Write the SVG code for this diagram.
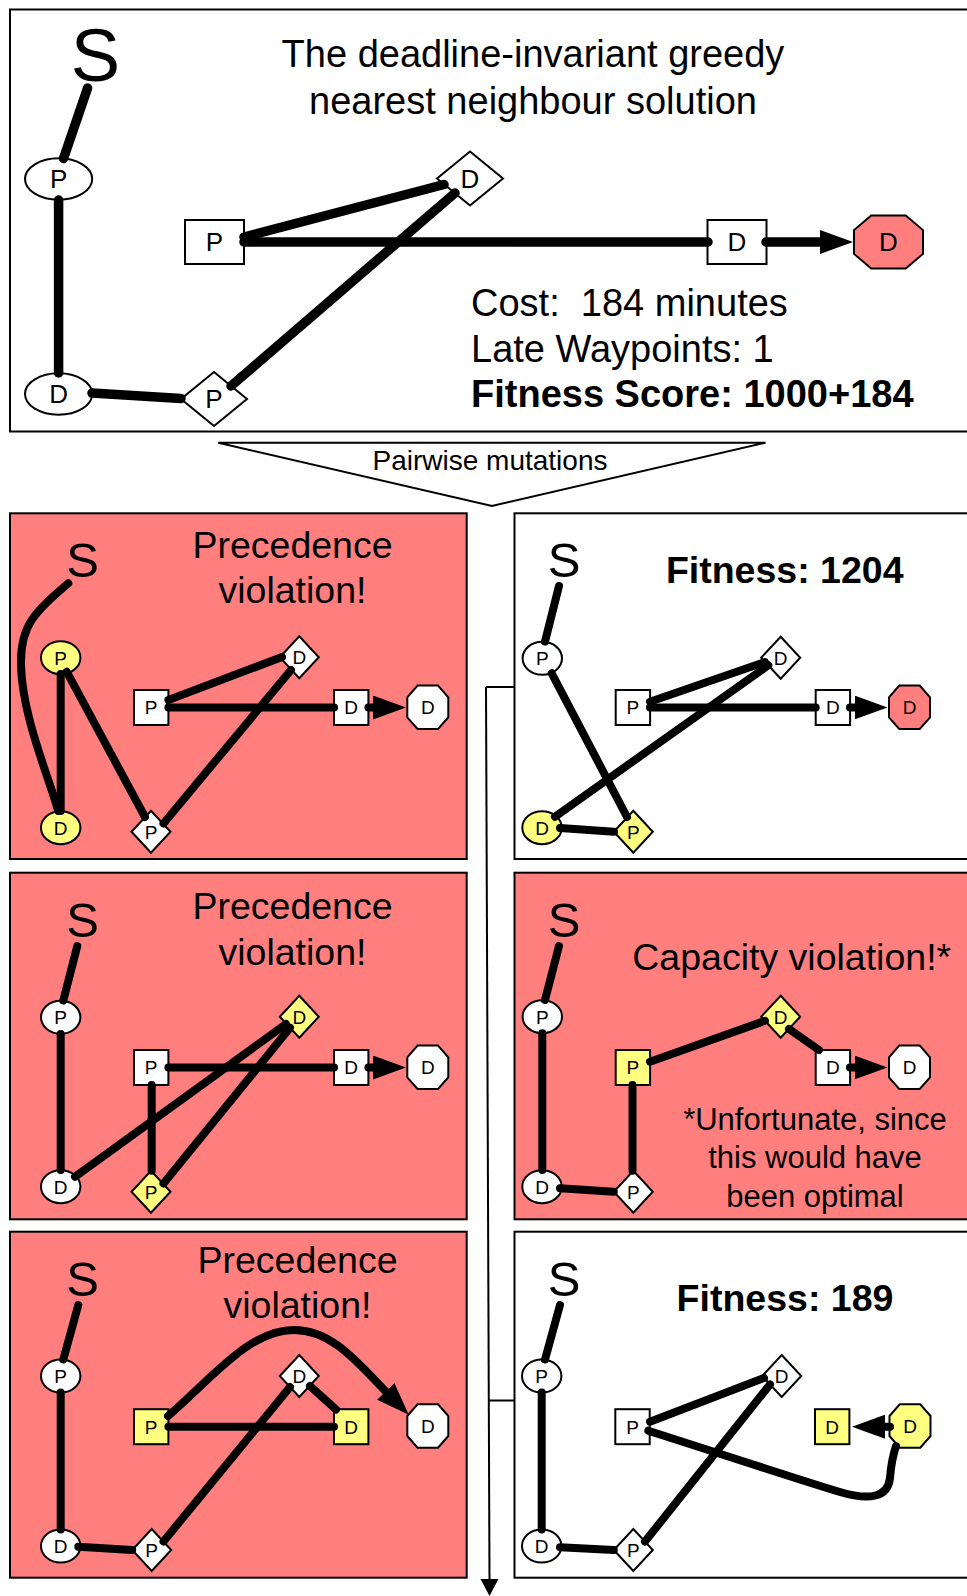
<svg xmlns="http://www.w3.org/2000/svg" xmlns:xlink="http://www.w3.org/1999/xlink" width="967" height="1596" viewBox="0 0 967 1596">
<style>
  text { font-family: "Liberation Sans", Arial, Helvetica, sans-serif; fill: #000; }
  .frame { stroke: #000; stroke-width: 2; }
  .bad { fill: #FF7F7F; }
  .ok { fill: #fff; }
  .nd { stroke: #000; stroke-width: 2; }
  .w { fill: #fff; }
  .y { fill: #FFFF80; }
  .r { fill: #FF7F7F; }
  .lb { font-size: 19px; text-anchor: middle; }
  .lbL { font-size: 26px; text-anchor: middle; }
  .s { font-size: 49px; text-anchor: middle; }
  .sL { font-size: 74px; text-anchor: middle; }
  .hd { font-size: 37.5px; text-anchor: middle; }
  .big { font-size: 38px; }
  .fit { font-size: 37.5px; font-weight: bold; text-anchor: middle; }
  .note { font-size: 31px; text-anchor: middle; }
  .e { fill: none; stroke: #000; stroke-width: 8; stroke-linecap: round; }
  .eL { stroke-width: 9.5; }
  .thin { fill: none; stroke: #000; stroke-width: 2; }
</style>
<defs>
  <marker id="head" markerUnits="userSpaceOnUse" markerWidth="33" markerHeight="24" viewBox="0 0 33 24" refX="0" refY="12" orient="auto">
    <path d="M0,0 L33,12 L0,24 z" fill="#000"/>
  </marker>
  <!-- large node shapes (summary route) -->
  <ellipse id="ell-l" rx="33.6" ry="20.8"/>
  <polygon id="dia-l" points="0,-27 33,0 0,27 -33,0"/>
  <rect id="sq-l" x="-29.5" y="-22" width="59" height="44"/>
  <polygon id="oct-l" points="-17.25,-26.5 17.25,-26.5 34.5,-11.9 34.5,11.9 17.25,26.5 -17.25,26.5 -34.5,11.9 -34.5,-11.9"/>
  <!-- small node shapes (mutation panels) -->
  <ellipse id="ell-s" rx="19.7" ry="16.5"/>
  <polygon id="dia-s" points="0,-21 19.5,0 0,21 -19.5,0"/>
  <rect id="sq-s" x="-17.2" y="-17.5" width="34.4" height="35"/>
  <polygon id="oct-s" points="-10.25,-21.7 10.25,-21.7 20.5,-10 20.5,10 10.25,21.7 -10.25,21.7 -20.5,10 -20.5,-10"/>
</defs>

<!-- panel frames -->
<g id="frames">
  <rect class="frame ok" x="10" y="9.5" width="970" height="422"/>
  <polygon class="frame ok" points="218.3,442.7 765.5,442.7 492,506"/>
  <rect class="frame bad" x="10" y="513.3" width="456.7" height="345.7"/>
  <rect class="frame ok" x="514.5" y="513.3" width="460" height="345.7"/>
  <rect class="frame bad" x="10" y="872.7" width="456.7" height="346.6"/>
  <rect class="frame bad" x="514.5" y="872.7" width="460" height="346.6"/>
  <rect class="frame bad" x="10" y="1231.7" width="456.7" height="346"/>
  <rect class="frame ok" x="514.5" y="1231.7" width="460" height="346"/>
</g>

<!-- flow from the mutations step to the accepted candidates -->
<g id="flow">
  <path class="thin" d="M486,687 L514.5,687"/>
  <path class="thin" d="M486,687 L489.5,1581"/>
  <path class="thin" d="M488.8,1400.5 L515,1400.5"/>
  <polygon points="480.5,1579 498.5,1579 489.5,1596" fill="#000"/>
</g>

<!-- captions -->
<g id="captions">
  <text class="big" x="533" y="67" text-anchor="middle">The deadline-invariant greedy</text>
  <text class="big" x="533" y="113.5" text-anchor="middle">nearest neighbour solution</text>
  <text class="big" x="471" y="316">Cost:&#160; 184 minutes</text>
  <text class="big" x="471" y="361.5">Late Waypoints: 1</text>
  <text class="big" x="471" y="407" font-weight="bold">Fitness Score: 1000+184</text>
  <text x="490" y="470" font-size="28" text-anchor="middle">Pairwise mutations</text>
  <text class="hd" x="292.5" y="558.3">Precedence</text>
  <text class="hd" x="292.5" y="603.3">violation!</text>
  <text class="fit" x="784.7" y="583.3">Fitness: 1204</text>
  <text class="hd" x="292.5" y="919.3">Precedence</text>
  <text class="hd" x="292.5" y="965">violation!</text>
  <text class="hd" x="791.7" y="970">Capacity violation!*</text>
  <text class="note" x="815" y="1130">*Unfortunate, since</text>
  <text class="note" x="815" y="1168.3">this would have</text>
  <text class="note" x="815" y="1206.7">been optimal</text>
  <text class="hd" x="297.5" y="1272.7">Precedence</text>
  <text class="hd" x="297.5" y="1317.7">violation!</text>
  <text class="fit" x="785" y="1310.7">Fitness: 189</text>
</g>

<!-- summary route nodes -->
<g id="top-s"><text class="sL" x="95.5" y="81">S</text></g>
<g id="top-p1"><use href="#ell-l" x="58.6" y="179" class="nd w"/><text class="lbL" x="58.6" y="188.3">P</text></g>
<g id="top-d1"><use href="#ell-l" x="58.6" y="394" class="nd w"/><text class="lbL" x="58.6" y="403.3">D</text></g>
<g id="top-p2"><use href="#dia-l" x="214" y="399" class="nd w"/><text class="lbL" x="214" y="408.3">P</text></g>
<g id="top-d2"><use href="#dia-l" x="470" y="178.5" class="nd w"/><text class="lbL" x="470" y="187.8">D</text></g>
<g id="top-p3"><use href="#sq-l" x="214.5" y="242" class="nd w"/><text class="lbL" x="214.5" y="251.3">P</text></g>
<g id="top-d3"><use href="#sq-l" x="737" y="242" class="nd w"/><text class="lbL" x="737" y="251.3">D</text></g>
<g id="top-d4"><use href="#oct-l" x="888.5" y="242" class="nd r"/><text class="lbL" x="888.5" y="251.3">D</text></g>

<!-- panel L1 nodes -->
<g id="l1-s"><text class="s" x="82.5" y="576.7">S</text></g>
<g id="l1-p1"><use href="#ell-s" x="60.7" y="657.7" class="nd y"/><text class="lb" x="60.7" y="664.5">P</text></g>
<g id="l1-d1"><use href="#ell-s" x="60.7" y="827.7" class="nd y"/><text class="lb" x="60.7" y="834.5">D</text></g>
<g id="l1-p2"><use href="#dia-s" x="151" y="831.7" class="nd w"/><text class="lb" x="151" y="838.5">P</text></g>
<g id="l1-d2"><use href="#dia-s" x="299.3" y="657.3" class="nd w"/><text class="lb" x="299.3" y="664.1">D</text></g>
<g id="l1-p3"><use href="#sq-s" x="151.2" y="707.5" class="nd w"/><text class="lb" x="151.2" y="714.3">P</text></g>
<g id="l1-d3"><use href="#sq-s" x="351.2" y="707.5" class="nd w"/><text class="lb" x="351.2" y="714.3">D</text></g>
<g id="l1-d4"><use href="#oct-s" x="427.8" y="707.3" class="nd w"/><text class="lb" x="427.8" y="714.1">D</text></g>

<!-- panel R1 nodes -->
<g id="r1-s"><text class="s" x="564.2" y="576.7">S</text></g>
<g id="r1-p1"><use href="#ell-s" x="542.3" y="658.3" class="nd w"/><text class="lb" x="542.3" y="665.1">P</text></g>
<g id="r1-d1"><use href="#ell-s" x="542" y="827.7" class="nd y"/><text class="lb" x="542" y="834.5">D</text></g>
<g id="r1-p2"><use href="#dia-s" x="633.3" y="831.7" class="nd y"/><text class="lb" x="633.3" y="838.5">P</text></g>
<g id="r1-d2"><use href="#dia-s" x="780.7" y="657.7" class="nd w"/><text class="lb" x="780.7" y="664.5">D</text></g>
<g id="r1-p3"><use href="#sq-s" x="632.9" y="707.5" class="nd w"/><text class="lb" x="632.9" y="714.3">P</text></g>
<g id="r1-d3"><use href="#sq-s" x="832.9" y="707.5" class="nd w"/><text class="lb" x="832.9" y="714.3">D</text></g>
<g id="r1-d4"><use href="#oct-s" x="909.5" y="707.3" class="nd r"/><text class="lb" x="909.5" y="714.1">D</text></g>

<!-- panel L2 nodes -->
<g id="l2-s"><text class="s" x="82.5" y="937">S</text></g>
<g id="l2-p1"><use href="#ell-s" x="60.7" y="1017.3" class="nd w"/><text class="lb" x="60.7" y="1024.1">P</text></g>
<g id="l2-d1"><use href="#ell-s" x="60.7" y="1186.7" class="nd w"/><text class="lb" x="60.7" y="1193.5">D</text></g>
<g id="l2-p2"><use href="#dia-s" x="151" y="1191.7" class="nd y"/><text class="lb" x="151" y="1198.5">P</text></g>
<g id="l2-d2"><use href="#dia-s" x="299.3" y="1016.7" class="nd y"/><text class="lb" x="299.3" y="1023.5">D</text></g>
<g id="l2-p3"><use href="#sq-s" x="151.2" y="1067.5" class="nd w"/><text class="lb" x="151.2" y="1074.3">P</text></g>
<g id="l2-d3"><use href="#sq-s" x="351.2" y="1067.5" class="nd w"/><text class="lb" x="351.2" y="1074.3">D</text></g>
<g id="l2-d4"><use href="#oct-s" x="427.8" y="1067.3" class="nd w"/><text class="lb" x="427.8" y="1074.1">D</text></g>

<!-- panel R2 nodes -->
<g id="r2-s"><text class="s" x="564.2" y="937.3">S</text></g>
<g id="r2-p1"><use href="#ell-s" x="542.3" y="1016.7" class="nd w"/><text class="lb" x="542.3" y="1023.5">P</text></g>
<g id="r2-d1"><use href="#ell-s" x="542" y="1186.7" class="nd w"/><text class="lb" x="542" y="1193.5">D</text></g>
<g id="r2-p2"><use href="#dia-s" x="633.3" y="1191.7" class="nd w"/><text class="lb" x="633.3" y="1198.5">P</text></g>
<g id="r2-d2"><use href="#dia-s" x="780.7" y="1016.7" class="nd y"/><text class="lb" x="780.7" y="1023.5">D</text></g>
<g id="r2-p3"><use href="#sq-s" x="632.9" y="1067.5" class="nd y"/><text class="lb" x="632.9" y="1074.3">P</text></g>
<g id="r2-d3"><use href="#sq-s" x="832.9" y="1067.5" class="nd w"/><text class="lb" x="832.9" y="1074.3">D</text></g>
<g id="r2-d4"><use href="#oct-s" x="909.5" y="1067.3" class="nd w"/><text class="lb" x="909.5" y="1074.1">D</text></g>

<!-- panel L3 nodes -->
<g id="l3-s"><text class="s" x="82.5" y="1296">S</text></g>
<g id="l3-p1"><use href="#ell-s" x="60.7" y="1376" class="nd w"/><text class="lb" x="60.7" y="1382.8">P</text></g>
<g id="l3-d1"><use href="#ell-s" x="60.7" y="1546" class="nd w"/><text class="lb" x="60.7" y="1552.8">D</text></g>
<g id="l3-p2"><use href="#dia-s" x="151.7" y="1550" class="nd w"/><text class="lb" x="151.7" y="1556.8">P</text></g>
<g id="l3-d2"><use href="#dia-s" x="299.3" y="1376" class="nd w"/><text class="lb" x="299.3" y="1382.8">D</text></g>
<g id="l3-p3"><use href="#sq-s" x="151.2" y="1426.7" class="nd y"/><text class="lb" x="151.2" y="1433.5">P</text></g>
<g id="l3-d3"><use href="#sq-s" x="351.2" y="1426.7" class="nd y"/><text class="lb" x="351.2" y="1433.5">D</text></g>
<g id="l3-d4"><use href="#oct-s" x="427.8" y="1426" class="nd w"/><text class="lb" x="427.8" y="1432.8">D</text></g>

<!-- panel R3 nodes -->
<g id="r3-s"><text class="s" x="564" y="1296">S</text></g>
<g id="r3-p1"><use href="#ell-s" x="541.7" y="1376" class="nd w"/><text class="lb" x="541.7" y="1382.8">P</text></g>
<g id="r3-d1"><use href="#ell-s" x="541.7" y="1546" class="nd w"/><text class="lb" x="541.7" y="1552.8">D</text></g>
<g id="r3-p2"><use href="#dia-s" x="633.3" y="1550" class="nd w"/><text class="lb" x="633.3" y="1556.8">P</text></g>
<g id="r3-d2"><use href="#dia-s" x="781.7" y="1376" class="nd w"/><text class="lb" x="781.7" y="1382.8">D</text></g>
<g id="r3-p3"><use href="#sq-s" x="632.5" y="1426.7" class="nd w"/><text class="lb" x="632.5" y="1433.5">P</text></g>
<g id="r3-d3"><use href="#sq-s" x="832.2" y="1426.7" class="nd y"/><text class="lb" x="832.2" y="1433.5">D</text></g>
<g id="r3-d4"><use href="#oct-s" x="910" y="1426" class="nd y"/><text class="lb" x="910" y="1432.8">D</text></g>

<!-- route legs -->
<g id="connectors">
  <!-- summary route -->
  <path class="e eL" d="M87.6,88 L63.5,158.5"/>
  <path class="e eL" d="M58.6,200 L58.6,373"/>
  <path class="e eL" d="M92,393 L181,398.5"/>
  <path class="e eL" d="M231,386 L455,193"/>
  <path class="e eL" d="M244,237 L444,184.5"/>
  <path class="e eL" d="M244,242 L708,242"/>
  <path class="e eL" d="M766,242 L820,242" marker-end="url(#head)"/>
  <!-- L1 -->
  <path class="e" d="M68.3,583.3 C35,612 20,625 21,665 C22,715 48,775 58.3,811"/>
  <path class="e" d="M60.7,674 L60.7,811"/>
  <path class="e" d="M66.7,671.7 L145,817"/>
  <path class="e" d="M163.5,823.5 L291,670"/>
  <path class="e" d="M168.4,700 L282,657"/>
  <path class="e" d="M168.4,707.5 L334,707.5"/>
  <path class="e" d="M368.4,707.5 L373,707.5" marker-end="url(#head)"/>
  <!-- R1 -->
  <path class="e" d="M559,586 L545,641.5"/>
  <path class="e" d="M551.7,673.3 L627,817"/>
  <path class="e" d="M560,828 L614,831.7"/>
  <path class="e" d="M555,816.7 L768.3,665.3"/>
  <path class="e" d="M650,701.7 L765,662"/>
  <path class="e" d="M650,707.5 L815.7,707.5"/>
  <path class="e" d="M850,707.5 L854.5,707.5" marker-end="url(#head)"/>
  <!-- L2 -->
  <path class="e" d="M77.3,946 L63.3,1000.5"/>
  <path class="e" d="M60.7,1034 L60.7,1170"/>
  <path class="e" d="M75,1176.7 L286,1024"/>
  <path class="e" d="M168.4,1067.5 L334,1067.5"/>
  <path class="e" d="M151.7,1085 L151.7,1170.7"/>
  <path class="e" d="M163.5,1183.5 L290,1027.7"/>
  <path class="e" d="M368.4,1067.5 L373,1067.5" marker-end="url(#head)"/>
  <!-- R2 -->
  <path class="e" d="M559,946 L545,1000"/>
  <path class="e" d="M542.3,1033.3 L542.3,1170"/>
  <path class="e" d="M560,1188.3 L613.8,1191.7"/>
  <path class="e" d="M632.5,1170.7 L632.5,1085"/>
  <path class="e" d="M650,1061.7 L765,1020.8"/>
  <path class="e" d="M789,1029 L819,1050"/>
  <path class="e" d="M850,1067.5 L854.5,1067.5" marker-end="url(#head)"/>
  <!-- L3 -->
  <path class="e" d="M78.3,1305 L63.3,1359.5"/>
  <path class="e" d="M60.7,1392.5 L60.7,1529.5"/>
  <path class="e" d="M78.3,1546.7 L132.2,1550"/>
  <path class="e" d="M163.5,1541.5 L290,1387"/>
  <path class="e" d="M310,1386 L336,1409.5"/>
  <path class="e" d="M168.4,1426.7 L334,1426.7"/>
  <path class="e" d="M168,1416 C215,1375 250,1330 294,1330 C332,1330 357,1362 385.7,1391.3" marker-end="url(#head)"/>
  <!-- R3 -->
  <path class="e" d="M560,1305 L545,1359.5"/>
  <path class="e" d="M541.7,1392.5 L541.7,1529.5"/>
  <path class="e" d="M560,1547.3 L613.8,1550"/>
  <path class="e" d="M645,1541.6 L770,1384.4"/>
  <path class="e" d="M650,1421.7 L764,1378"/>
  <path class="e" d="M648.3,1430.7 C740,1460 800,1480 840,1492 C870,1501 888,1497 890,1478 C891,1465 893,1455 896,1446"/>
  <path class="e" d="M890,1426.7 L885,1426.7" marker-end="url(#head)"/>
</g>
</svg>
